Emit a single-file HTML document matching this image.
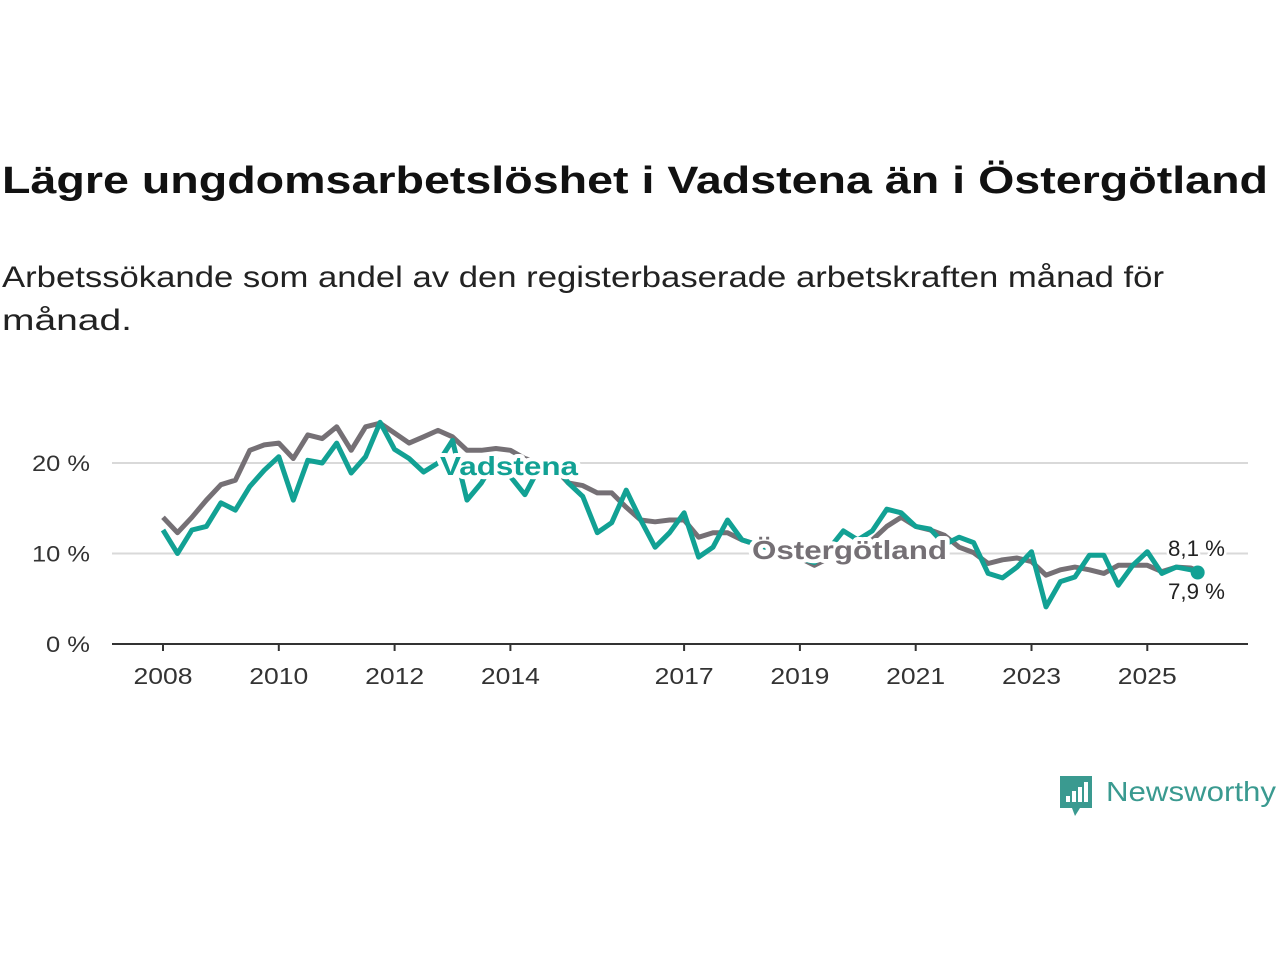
<!DOCTYPE html>
<html><head><meta charset="utf-8"><style>
body{margin:0;background:#fff;}
svg{display:block;font-family:"Liberation Sans",sans-serif;}
</style></head><body>
<svg width="1280" height="960">
<text x="2" y="193" font-size="38" font-weight="bold" fill="#111" textLength="1266" lengthAdjust="spacingAndGlyphs">Lägre ungdomsarbetslöshet i Vadstena än i Östergötland</text>
<text x="2" y="287" font-size="30" fill="#222" textLength="1162" lengthAdjust="spacingAndGlyphs">Arbetssökande som andel av den registerbaserade arbetskraften månad för</text>
<text x="2" y="330" font-size="30" fill="#222" textLength="130" lengthAdjust="spacingAndGlyphs">månad.</text>
<g id="plot"></g>
<g>
<path d="M1060 776 h32 v32 h-12 l-5 8 l-3 -8 h-12 z" fill="#3a9a90"/>
<rect x="1066" y="796" width="4" height="6" fill="#fff"/><rect x="1072" y="791" width="4" height="11" fill="#fff"/><rect x="1078" y="787" width="4" height="15" fill="#fff"/><rect x="1084" y="782" width="4" height="20" fill="#fff"/>
<text x="1106" y="801" font-size="28" fill="#3a9a90" textLength="170" lengthAdjust="spacingAndGlyphs">Newsworthy</text>
</g>
</svg>
<script>
const years=[2008,2010,2012,2014,2017,2019,2021,2023,2025];
const yTicks=[0,10,20];
const startYear=2008;
const ostergotland=[14.0,12.3,14.0,15.9,17.6,18.1,21.4,22.0,22.2,20.5,23.1,22.7,24.0,21.4,24.0,24.4,23.3,22.2,22.9,23.6,22.9,21.4,21.4,21.6,21.4,20.5,20.0,19.5,17.8,17.5,16.7,16.7,15.1,13.7,13.5,13.7,13.7,11.8,12.3,12.3,11.5,11.0,10.5,10.0,9.5,8.7,9.5,10.5,11.0,11.5,13.0,14.0,13.0,12.6,12.0,10.7,10.1,8.9,9.3,9.5,9.1,7.6,8.2,8.5,8.2,7.8,8.7,8.7,8.7,8.0,8.5,8.4,8.1];
const vadstena=[12.6,10.0,12.6,13.0,15.6,14.8,17.4,19.2,20.7,15.9,20.3,20.0,22.2,18.9,20.7,24.5,21.5,20.5,19.0,20.0,22.5,15.9,17.8,20.5,18.5,16.5,19.5,20.0,17.8,16.3,12.3,13.4,17.0,13.7,10.7,12.3,14.5,9.6,10.7,13.7,11.5,11.0,10.5,10.0,9.5,9.0,10.5,12.5,11.5,12.5,14.9,14.5,13.0,12.7,11.0,11.8,11.2,7.8,7.3,8.5,10.2,4.1,6.9,7.4,9.8,9.8,6.5,8.7,10.2,7.8,8.5,8.2,7.9];
const xs=t=>163+(t-2008)*57.9;
const ys=v=>644-9.05*v;
const tOf=i=>i<72?startYear+i*0.25:startYear+17.87;
const NS="http://www.w3.org/2000/svg";
const g=document.getElementById('plot');
function mk(tag,attrs,parent){const e=document.createElementNS(NS,tag);for(const k in attrs)e.setAttribute(k,attrs[k]);(parent||g).appendChild(e);return e;}
yTicks.forEach(v=>{
 if(v>0){const l=mk('line',{x1:112,x2:1248,y1:ys(v),y2:ys(v),stroke:'#d9d9d9','stroke-width':2});
 
 }
 const t=mk('text',{x:90,y:ys(v)+8,'font-size':22,fill:'#333','text-anchor':'end',textLength:(v>0?58:44),lengthAdjust:'spacingAndGlyphs'});
 
 
 t.textContent=v+' %';
});
const ax=mk('line',{x1:112,x2:1248,y1:644,y2:644,stroke:'#333','stroke-width':2});


years.forEach(y=>{
 const tk=mk('line',{x1:xs(y),x2:xs(y),y1:644,y2:651,stroke:'#333','stroke-width':2});
 
 
 const t=mk('text',{x:xs(y),y:684,'font-size':23,fill:'#333','text-anchor':'middle',textLength:59,lengthAdjust:'spacingAndGlyphs'});
 
 
 t.textContent=y;
});
function path(arr){return arr.map((v,i)=>(i?'L':'M')+xs(tOf(i)).toFixed(1)+' '+ys(v).toFixed(1)).join(' ');}
const p1=mk('path',{d:path(ostergotland),fill:'none',stroke:'#757075','stroke-width':5,'stroke-linejoin':'round'});


const p2=mk('path',{d:path(vadstena),fill:'none',stroke:'#12a194','stroke-width':5,'stroke-linejoin':'round'});


const last=vadstena.length-1;
const dot=mk('circle',{cx:xs(tOf(last)),cy:ys(vadstena[last]),r:7,fill:'#12a194'});


function label(txt,x,y,fill,name,bold,w){const t=mk('text',{x:x,y:y,'font-size':bold?26:22,'font-weight':bold?'bold':'normal',fill:fill,stroke:'#fff','stroke-width':bold?8:5,'paint-order':'stroke','stroke-linejoin':'round',textLength:w,lengthAdjust:'spacingAndGlyphs'});
 
 
 t.textContent=txt;return t;}
label('Vadstena',440,475,'#12a194','vadstena-label',true,138);
label('Östergötland',752,559,'#757075','ostergotland-label',true,195);
label(String(ostergotland[ostergotland.length-1]).replace('.',',')+' %',1168,556,'#222','ostergotland-end-value',false,57);
label(String(vadstena[last]).replace('.',',')+' %',1168,599,'#222','vadstena-end-value',false,57);
</script>
</body></html>
